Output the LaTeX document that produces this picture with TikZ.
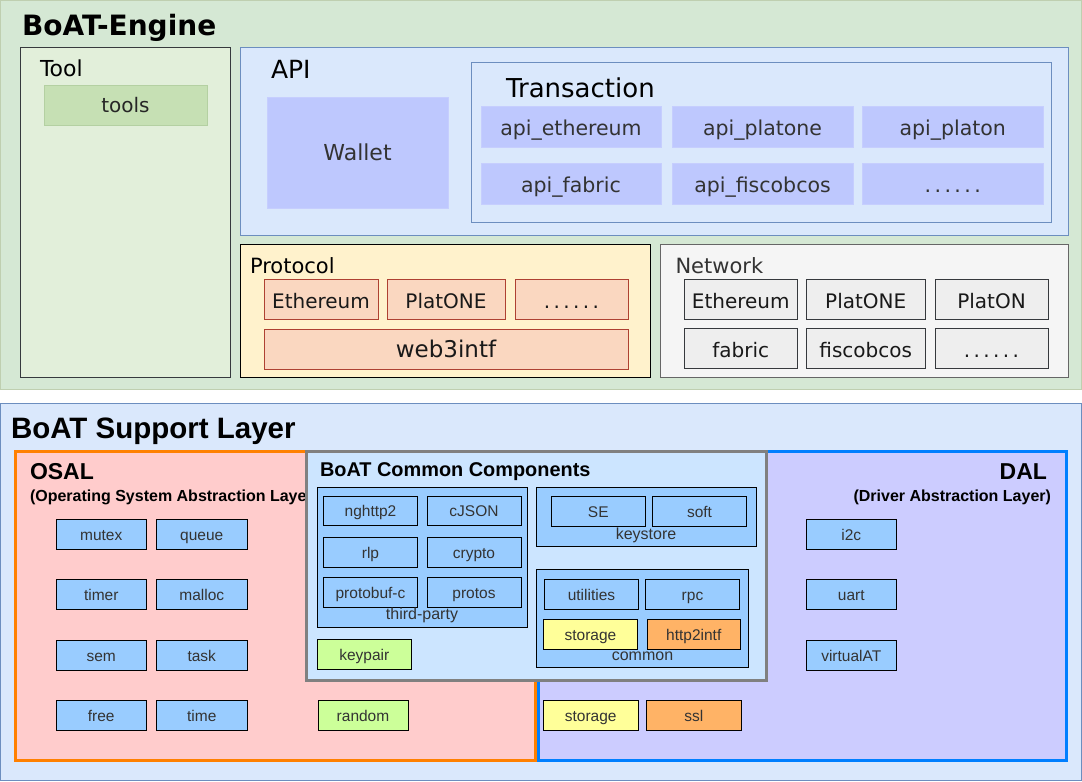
\documentclass[tikz,border=0pt]{standalone}
\usepackage{fontspec}
\setmainfont{DejaVu Sans}
\newfontfamily\arialf{Liberation Sans}
\definecolor{engFill}{HTML}{D5E8D4}
\definecolor{engDraw}{HTML}{BFCFB0}
\definecolor{toolFill}{HTML}{E2EFDA}
\definecolor{darkDraw}{HTML}{36393D}
\definecolor{toolsFill}{HTML}{C6E0B4}
\definecolor{toolsDraw}{HTML}{B4D0A2}
\definecolor{apiFill}{HTML}{DAE8FC}
\definecolor{apiDraw}{HTML}{6C8EBF}
\definecolor{walFill}{HTML}{BEC8FE}
\definecolor{walDraw}{HTML}{C6CEFE}
\definecolor{protFill}{HTML}{FFF2CC}
\definecolor{protItem}{HTML}{FAD7C0}
\definecolor{protDraw}{HTML}{AE4132}
\definecolor{netFill}{HTML}{F5F5F5}
\definecolor{netDraw}{HTML}{666666}
\definecolor{netItem}{HTML}{EEEEEE}
\definecolor{txt}{HTML}{333333}
\definecolor{osalFill}{HTML}{FFCCCC}
\definecolor{osalDraw}{HTML}{FF8000}
\definecolor{dalFill}{HTML}{CCCCFF}
\definecolor{dalDraw}{HTML}{007FFF}
\definecolor{comFill}{HTML}{CCE5FF}
\definecolor{comDraw}{HTML}{808080}
\definecolor{itemBlue}{HTML}{99CCFF}
\definecolor{itemGreen}{HTML}{CCFF99}
\definecolor{itemYellow}{HTML}{FFFF99}
\definecolor{itemOrange}{HTML}{FFB366}
\newcommand{\fs}[1]{\fontsize{#1}{#1}\selectfont}
\newcommand{\sixdots}{.\hspace{3.4pt}.\hspace{3.4pt}.\hspace{3.4pt}.\hspace{3.4pt}.\hspace{3.4pt}.}
\newcommand{\bx}[7]{\node[#6, minimum width={#4pt-#2pt}, minimum height={#5pt-#3pt}] (#1) at ({(#2+#4)/2},{(#3+#5)/2}) {#7};}
\tikzset{
  base/.style={rectangle, inner sep=0pt, outer sep=0pt, line width=1pt},
  engbox/.style={base, fill=engFill, draw=engDraw},
  toolbox/.style={base, fill=toolFill, draw=darkDraw},
  toolsitem/.style={base, fill=toolsFill, draw=toolsDraw, font=\fs{20}, text=black!85, text height=15pt, text depth=0pt},
  apibox/.style={base, fill=apiFill, draw=apiDraw},
  walitem/.style={base, fill=walFill, draw=walDraw, font=\fs{22}, text=txt, text height=16.4pt, text depth=0pt},
  apiitem/.style={walitem, font=\fs{20.5}, text height=17pt},
  protbox/.style={base, fill=protFill, draw=black},
  protitem/.style={base, fill=protItem, draw=protDraw, font=\fs{20}, text=black!90, text height=18.4pt, text depth=0pt},
  netbox/.style={base, fill=netFill, draw=netDraw},
  netitem/.style={base, fill=netItem, draw=darkDraw, font=\fs{20}, text=black!90, text height=18.4pt, text depth=0pt},
  supbox/.style={base, fill=apiFill, draw=apiDraw},
  osalbox/.style={base, fill=osalFill, draw=osalDraw, line width=3pt},
  dalbox/.style={base, fill=dalFill, draw=dalDraw, line width=3pt},
  combox/.style={base, fill=comFill, draw=comDraw, line width=3pt},
  grp/.style={base, fill=itemBlue, draw=black},
  bitem/.style={base, fill=itemBlue, draw=black, font=\arialf\fs{15.5}, text=txt, text height=12.2pt, text depth=0pt},
  gitem/.style={bitem, fill=itemGreen},
  yitem/.style={bitem, fill=itemYellow},
  oitem/.style={bitem, fill=itemOrange},
  lbl/.style={inner sep=0pt, outer sep=0pt},
}
\begin{document}
\begin{tikzpicture}[x=1pt,y=-1pt]
\useasboundingbox (0,0) rectangle (1082,782);
% ===== BoAT-Engine =====
\bx{engine}{0.5}{0.5}{1081}{389}{engbox}{}
\node[lbl, anchor=base west, font=\bfseries\fs{28}] (engt) at (22,35) {BoAT-Engine};
\bx{tool}{20.5}{47}{230.5}{377}{toolbox}{}
\node[lbl, anchor=base west, font=\fs{22}] (toolt) at (40,76) {Tool};
\bx{tools}{44}{85}{207}{125.5}{toolsitem}{tools}
% API
\bx{api}{240.5}{47.5}{1068}{235}{apibox}{}
\node[lbl, anchor=base west, font=\fs{25}] (apit) at (271,78) {API};
\bx{wallet}{267}{97}{448}{208}{walitem}{Wallet}
\bx{trans}{471}{62}{1051}{222}{apibox}{}
\node[lbl, anchor=base west, font=\fs{26}] (transt) at (506,97) {Transaction};
\bx{a1}{481}{106.5}{661}{147}{apiitem}{api\_ethereum}
\bx{a2}{672}{106.5}{853}{147}{apiitem}{api\_platone}
\bx{a3}{862.5}{106.5}{1043}{147}{apiitem}{api\_platon}
\bx{a4}{481}{163}{661}{204}{apiitem}{api\_fabric}
\bx{a5}{672}{163}{853}{204}{apiitem}{api\_fiscobcos}
\bx{a6}{862.5}{163}{1043}{204}{apiitem}{\sixdots}
% Protocol
\bx{prot}{240.5}{244}{650.5}{377}{protbox}{}
\node[lbl, anchor=base west, font=\fs{21}] (prott) at (250,273) {Protocol};
\bx{p1}{264}{279}{378}{319}{protitem}{Ethereum}
\bx{p2}{387}{279}{505}{319}{protitem}{PlatONE}
\bx{p3}{515}{279}{628}{319}{protitem}{\sixdots}
\bx{p4}{264}{329}{628}{369}{protitem, font=\fs{23}, text height=17.4pt}{web3intf}
% Network
\bx{net}{660.5}{244}{1068}{377}{netbox}{}
\node[lbl, anchor=base west, font=\fs{21}, text=txt] (nett) at (675.5,273) {Network};
\bx{n1}{684}{279}{797.5}{319}{netitem}{Ethereum}
\bx{n2}{806.5}{279}{925}{319}{netitem}{PlatONE}
\bx{n3}{935}{279}{1048}{319}{netitem}{PlatON}
\bx{n4}{684}{328.5}{797.5}{368}{netitem}{fabric}
\bx{n5}{806.5}{328.5}{925}{368}{netitem}{fiscobcos}
\bx{n6}{935}{328.5}{1048}{368}{netitem}{\sixdots}
% ===== BoAT Support Layer =====
\bx{support}{0.5}{403.5}{1081}{780}{supbox}{}
\node[lbl, anchor=base west, font=\arialf\bfseries\fs{29.5}] (supt) at (11,438) {BoAT Support Layer};
\bx{osal}{15}{451}{535.5}{760}{osalbox}{}
\bx{dal}{538.5}{451}{1066}{760}{dalbox}{}
\node[lbl, anchor=base west, font=\arialf\bfseries\fs{23}] (osalt) at (30,479) {OSAL};
\node[lbl, anchor=base west, font=\arialf\bfseries\fs{16}] (osals) at (30,501) {(Operating System Abstraction Layer)};
\node[lbl, anchor=base east, font=\arialf\bfseries\fs{23}] (dalt) at (1047,479) {DAL};
\node[lbl, anchor=base east, font=\arialf\bfseries\fs{16}] (dals) at (1051,501) {(Driver Abstraction Layer)};
% OSAL items
\bx{mutex}{56}{519}{146.5}{549}{bitem}{mutex}
\bx{queue}{156.5}{519}{247}{549}{bitem}{queue}
\bx{timer}{56}{579}{146.5}{609}{bitem}{timer}
\bx{malloc}{156.5}{579}{247}{609}{bitem}{malloc}
\bx{sem}{56}{640}{146.5}{670}{bitem}{sem}
\bx{task}{156.5}{640}{247}{670}{bitem}{task}
\bx{free}{56}{700}{146.5}{730}{bitem}{free}
\bx{time}{156.5}{700}{247}{730}{bitem}{time}
\bx{random}{318}{700}{408}{730}{gitem}{random}
% DAL items
\bx{i2c}{806}{519}{896.5}{549}{bitem}{i2c}
\bx{uart}{806}{579}{896.5}{609}{bitem}{uart}
\bx{virtualAT}{806}{640}{896.5}{670}{bitem}{virtualAT}
\bx{storage2}{543.5}{700}{638}{730.5}{yitem}{storage}
\bx{ssl}{646.5}{700}{741}{730.5}{oitem}{ssl}
% Common components
\bx{common}{306.5}{451.5}{766}{680}{combox}{}
\node[lbl, anchor=base west, font=\arialf\bfseries\fs{19.9}] (comt) at (320,476) {BoAT Common Components};
\bx{third}{317.5}{487}{527}{627}{grp}{}
\bx{nghttp2}{323.5}{496}{417.5}{525.5}{bitem}{nghttp2}
\bx{cjson}{427}{496}{521}{525.5}{bitem}{cJSON}
\bx{rlp}{323.5}{537.5}{417.5}{567}{bitem}{rlp}
\bx{crypto}{427}{537.5}{521}{567}{bitem}{crypto}
\bx{protobuf}{323.5}{577.5}{417.5}{607}{bitem}{protobuf-c}
\bx{protos}{427}{577.5}{521}{607}{bitem}{protos}
\node[lbl, font=\arialf\fs{16}, text=txt] (thirdt) at (422,615.5) {third-party};
\bx{keypair}{317.5}{639.5}{411}{669}{gitem}{keypair}
\bx{keystore}{536.5}{487}{756}{546.5}{grp}{}
\bx{se}{551.5}{496.5}{645}{526.5}{bitem}{SE}
\bx{soft}{652.5}{496.5}{746.5}{526.5}{bitem}{soft}
\node[lbl, font=\arialf\fs{16}, text=txt] (keystoret) at (646,535) {keystore};
\bx{commong}{536.5}{569.5}{748.5}{667.5}{grp}{}
\bx{utilities}{544.5}{579.5}{638.5}{609}{bitem}{utilities}
\bx{rpc}{645.5}{579.5}{739.5}{609}{bitem}{rpc}
\bx{storage}{543.5}{619.5}{637.5}{649}{yitem}{storage}
\bx{http2intf}{647}{619.5}{740.5}{649}{oitem}{http2intf}
\node[lbl, font=\arialf\fs{16}, text=txt] (commont) at (642.5,656) {common};
\end{tikzpicture}
\end{document}
